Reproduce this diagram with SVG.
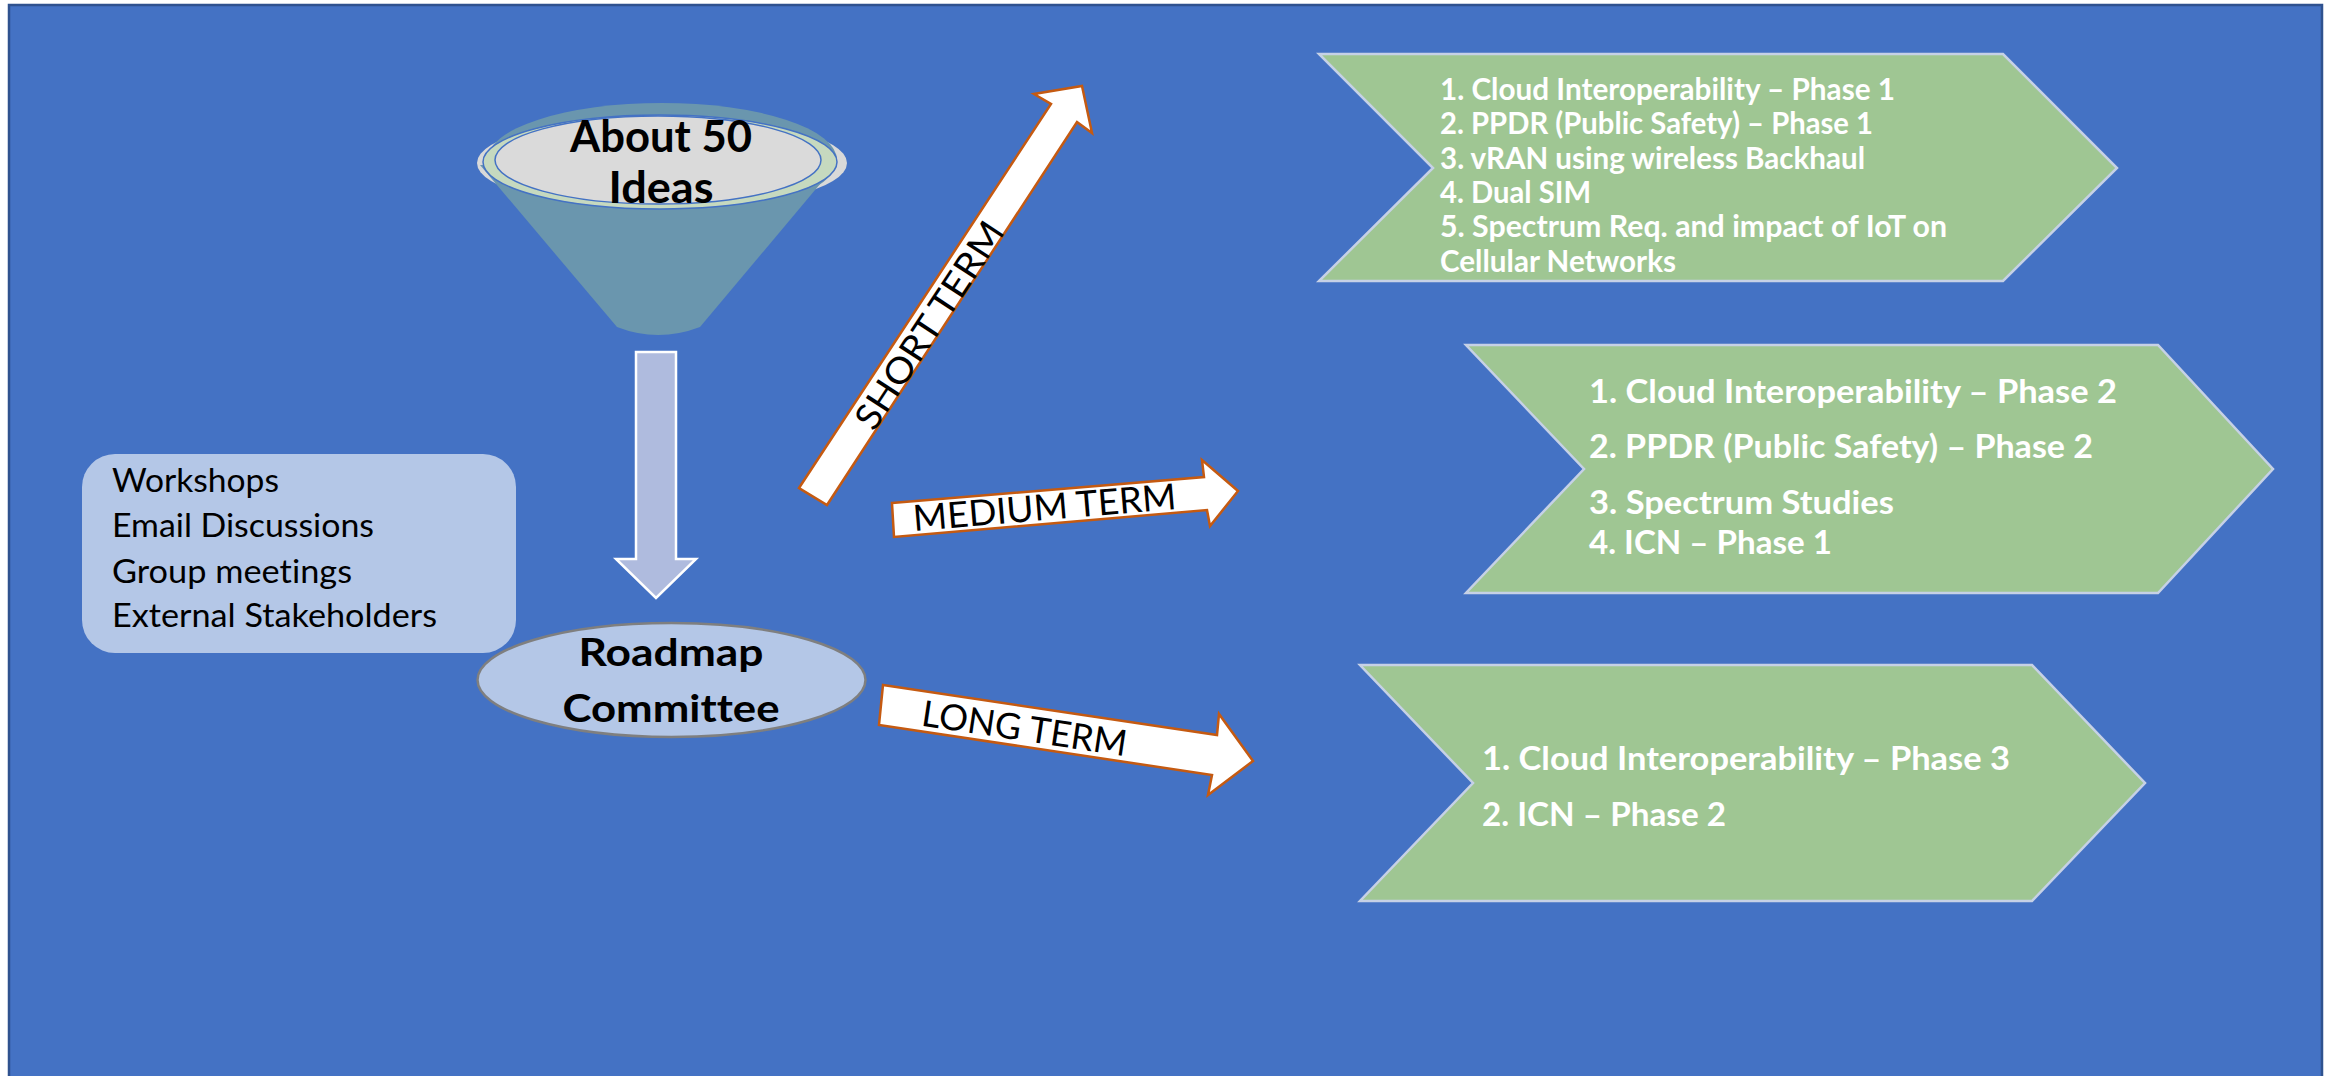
<svg xmlns="http://www.w3.org/2000/svg" width="2336" height="1076" viewBox="0 0 2336 1076">
  <style>
    text { font-variant-ligatures: none; }
    .bold { font-family: Lato, "Open Sans", "Liberation Sans", sans-serif; font-weight: 700; }
    .reg { font-family: Lato, "Open Sans", "Liberation Sans", sans-serif; font-weight: 400; }
    .dark { fill: #000000; }
    .light { fill: #FFFFFF; }
    .chevron { fill: #9FC693; stroke: #C6D1E6; stroke-width: 2.5; stroke-linejoin: miter; }
    .term { fill: #FFFFFF; stroke: #C55A11; stroke-width: 2.5; stroke-linejoin: miter; }
    .flow { fill: #AFBBDE; stroke: #FFFFFF; stroke-width: 2.5; }
    .soft { fill: #B4C7E7; }
  </style>

  <!-- slide background -->
  <rect x="0" y="0" width="2336" height="1076" fill="#FFFFFF"/>
  <rect x="9" y="5" width="2313" height="1080" fill="#4472C4" stroke="#2F528F" stroke-width="2.5"/>

  <!-- idea funnel -->
  <g id="funnel">
    <ellipse cx="662" cy="163" rx="185" ry="47" fill="#D9D9D9"/>
    <ellipse cx="662" cy="160" rx="175" ry="57" fill="#6A96AE"/>
    <path d="M 480,165 L 617,327 Q 658,343 700,327 L 836,165 Z" fill="#6A96AE"/>
    <ellipse cx="660" cy="162" rx="177" ry="47" fill="#C6D9BF" stroke="#4472C4" stroke-width="1.5"/>
    <ellipse cx="658" cy="160" rx="163" ry="44" fill="#DADADA" stroke="#4472C4" stroke-width="1.5"/>
    <text class="bold dark" font-size="43" x="661" y="152" text-anchor="middle" textLength="182" lengthAdjust="spacingAndGlyphs">About 50</text>
    <text class="bold dark" font-size="43" x="661" y="203" text-anchor="middle" textLength="105" lengthAdjust="spacingAndGlyphs">Ideas</text>
  </g>

  <!-- input channels -->
  <g id="inputs">
    <rect class="soft" x="82" y="454" width="434" height="199" rx="33" ry="33"/>
    <text class="reg dark" font-size="32" x="112" y="492" textLength="167" lengthAdjust="spacingAndGlyphs">Workshops</text>
    <text class="reg dark" font-size="32" x="112" y="537" textLength="262" lengthAdjust="spacingAndGlyphs">Email Discussions</text>
    <text class="reg dark" font-size="32" x="112" y="583" textLength="240" lengthAdjust="spacingAndGlyphs">Group meetings</text>
    <text class="reg dark" font-size="32" x="112" y="627" textLength="325" lengthAdjust="spacingAndGlyphs">External Stakeholders</text>
  </g>

  <!-- committee -->
  <g id="committee">
    <ellipse class="soft" cx="671.5" cy="680" rx="194" ry="57" stroke="#7F7F7F" stroke-width="2.5"/>
    <text class="bold dark" font-size="38" x="671" y="666" text-anchor="middle" textLength="185" lengthAdjust="spacingAndGlyphs">Roadmap</text>
    <text class="bold dark" font-size="38" x="671" y="722" text-anchor="middle" textLength="217" lengthAdjust="spacingAndGlyphs">Committee</text>
  </g>

  <!-- short term items -->
  <g id="short-term">
    <polygon class="chevron" points="1319,54 2003,54 2117,168 2003,281 1319,281 1433,168"/>
    <g class="bold light" font-size="30.5">
      <text x="1440" y="100" textLength="455" lengthAdjust="spacingAndGlyphs">1. Cloud Interoperability – Phase 1</text>
      <text x="1440" y="134" textLength="433" lengthAdjust="spacingAndGlyphs">2. PPDR (Public Safety) – Phase 1</text>
      <text x="1440" y="168.5" textLength="425" lengthAdjust="spacingAndGlyphs">3. vRAN using wireless Backhaul</text>
      <text x="1440" y="203" textLength="151" lengthAdjust="spacingAndGlyphs">4. Dual SIM</text>
      <text x="1440" y="237" textLength="507" lengthAdjust="spacingAndGlyphs">5. Spectrum Req. and impact of IoT on</text>
      <text x="1440" y="271.5" textLength="236" lengthAdjust="spacingAndGlyphs">Cellular Networks</text>
    </g>
  </g>

  <!-- medium term items -->
  <g id="medium-term">
    <polygon class="chevron" points="1466,345 2158,345 2273,469 2158,593 1466,593 1584,469"/>
    <g class="bold light" font-size="33">
      <text x="1589" y="403" textLength="528" lengthAdjust="spacingAndGlyphs">1. Cloud Interoperability – Phase 2</text>
      <text x="1589" y="458" textLength="504" lengthAdjust="spacingAndGlyphs">2. PPDR (Public Safety) – Phase 2</text>
      <text x="1589" y="514" textLength="305" lengthAdjust="spacingAndGlyphs">3. Spectrum Studies</text>
      <text x="1589" y="554" textLength="243" lengthAdjust="spacingAndGlyphs">4. ICN – Phase 1</text>
    </g>
  </g>

  <!-- long term items -->
  <g id="long-term">
    <polygon class="chevron" points="1360,665 2032,665 2145,783 2032,901 1360,901 1473,783"/>
    <g class="bold light" font-size="33">
      <text x="1482" y="770" textLength="528" lengthAdjust="spacingAndGlyphs">1. Cloud Interoperability – Phase 3</text>
      <text x="1482" y="826" textLength="244" lengthAdjust="spacingAndGlyphs">2. ICN – Phase 2</text>
    </g>
  </g>

  <!-- block arrows linking the stages -->
  <g id="connectors">
    <polygon class="flow" points="636,352 676,352 676,559 696,559 656,598 616,559 636,559"/>

    <polygon class="term" points="799,488 1051,104 1034,94 1082,86 1092,133 1077,122 827,505"/>
    <text class="reg dark" font-size="36" transform="translate(929,325) rotate(-56.7)" x="0" y="13" text-anchor="middle" textLength="240" lengthAdjust="spacingAndGlyphs">SHORT TERM</text>

    <polygon class="term" points="892,503 1204,477 1202,460 1238,491 1210,526 1207,510 894,537"/>
    <text class="reg dark" font-size="36" transform="translate(1044.5,507) rotate(-4.8)" x="0" y="13" text-anchor="middle" textLength="264" lengthAdjust="spacingAndGlyphs">MEDIUM TERM</text>

    <polygon class="term" points="883,685 1217,735 1219,714 1253,761 1208,795 1212,775 879,725"/>
    <text class="reg dark" font-size="36" transform="translate(1024.5,728) rotate(8.56)" x="0" y="13" text-anchor="middle" textLength="207" lengthAdjust="spacingAndGlyphs">LONG TERM</text>
  </g>
</svg>
